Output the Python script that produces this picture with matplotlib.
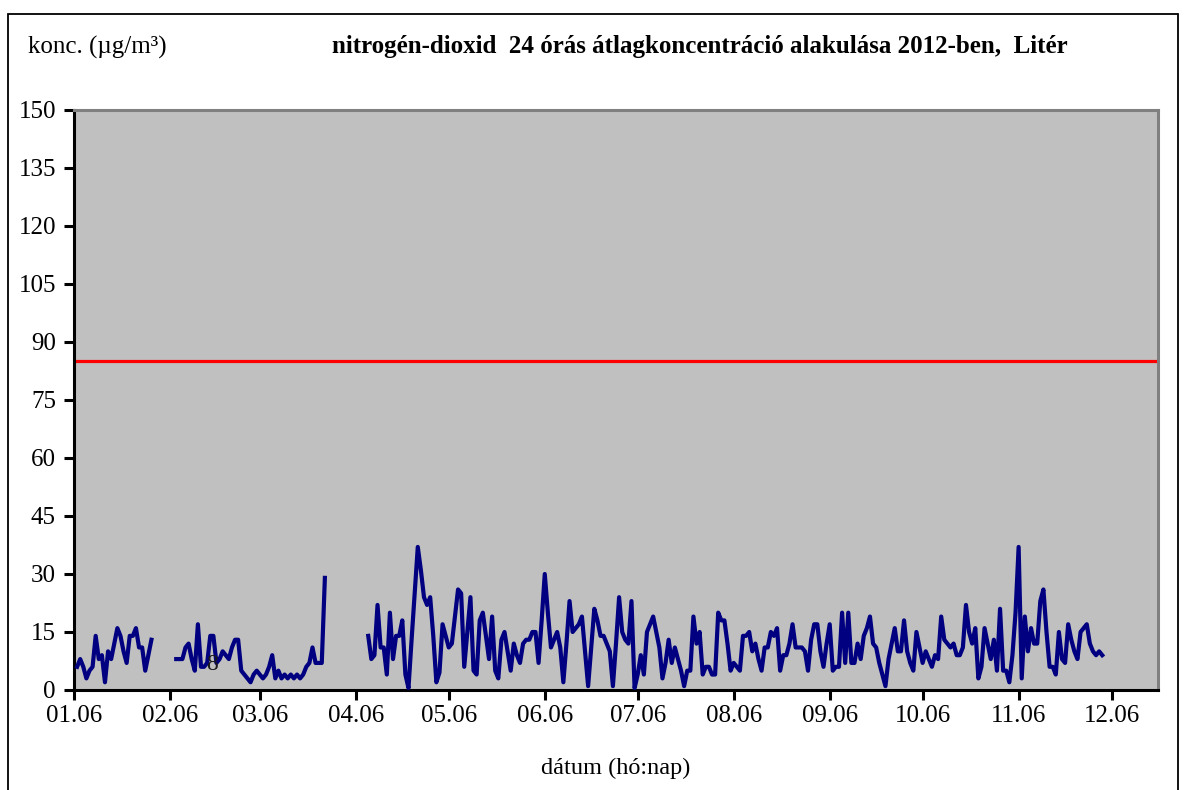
import numpy as np
import pandas as pd
import matplotlib
matplotlib.use('Agg')
import matplotlib.pyplot as plt
import matplotlib.dates as mdates
from matplotlib.patches import Rectangle

plt.rcParams['font.family'] = ['Liberation Serif', 'DejaVu Serif']

# daily NO2 24h means (ug/m3), three measured periods
seg1_start = '2012-01-07'
seg1 = [6, 8, 6, 3, 5, 6, 14, 8, 9, 2, 10, 8, 12, 16, 14, 10, 7, 14, 14, 16,
        11, 11, 5, 9, 13]

seg2_start = '2012-02-08'
seg2 = [8, 8, 8, 11, 12, 8, 5, 17, 6, 6, 7, 14, 14, 7, 8, 10, 9, 8, 11, 13,
        13, 5, 4, 3, 2, 4, 5, 4, 3, 4, 6, 9, 3, 5, 3, 4, 3, 4, 3, 4,
        3, 4, 6, 7, 11, 7, 7, 7, 29]

seg3_start = '2012-04-10'
seg3 = [14, 8, 9, 22, 11, 11, 4, 20, 8, 14, 14, 18, 4, 0.5, 13, 25, 37, 31, 24, 22,
        24, 14, 2, 4.5, 17, 14, 11, 12, 19, 26, 25, 6, 15, 24, 5, 4, 18, 20, 14, 8,
        19, 5, 3, 13, 15, 10, 5, 12, 9, 7, 12, 13, 13, 15, 15, 7, 18, 30, 20, 11,
        13, 15, 11, 2, 12, 23, 15, 16, 17, 19, 10, 1, 11, 21, 18, 14, 14, 12, 10, 1,
        12, 24, 15, 13, 12, 23, 0.5, 4, 9, 4, 15, 17, 19, 15, 11, 3, 7, 13, 7, 11,
        8, 5, 1, 5, 5, 19, 12, 15, 4, 6, 6, 4, 4, 20, 18, 18, 12, 5, 7, 6,
        5, 14, 14, 15, 10, 12, 8, 5, 11, 11, 15, 14, 16, 5, 9, 9, 12, 17, 11, 11,
        11, 10, 5, 13, 17, 17, 10, 6, 12, 17, 5, 6, 6, 20, 7, 20, 7, 7, 12, 8,
        14, 16, 19, 12, 11, 7, 4, 1, 8, 12, 16, 10, 10, 18, 10, 7, 5, 15, 11, 7,
        10, 8, 6, 9, 8, 19, 13, 12, 11, 12, 9, 9, 11, 22, 15, 12, 16, 3, 6, 16,
        12, 8, 13, 5, 21, 5, 5, 2, 9, 20, 37, 3, 19, 10, 16, 12, 12, 23, 26, 15,
        6, 6, 4, 15, 8, 7, 17, 13, 10, 8, 15, 16, 17, 12, 10, 9, 10, 9]

limit_value = 85
label_date = '2012-02-19 12:00'
label_value = 6.7
label_text = '8'

x_start, x_end = '2012-01-06', '2012-12-21'
month_ticks = [pd.Timestamp(2012, m, 6) for m in range(1, 13)]

fig = plt.figure(figsize=(11.84, 7.9), dpi=100)
ax = fig.add_axes([74 / 1184, 1 - 690 / 790, (1158 - 74) / 1184, (690 - 110) / 790])
ax.set_facecolor('#C0C0C0')

for start, vals in [(seg1_start, seg1), (seg2_start, seg2), (seg3_start, seg3)]:
    dates = pd.date_range(start, periods=len(vals), freq='D')
    ax.plot(dates, vals, color='#000080', lw=3.0, solid_joinstyle='round', zorder=3)

ax.axhline(limit_value, color='#FF0000', lw=2.3, zorder=2)
ax.text(pd.Timestamp(label_date), label_value, label_text, fontsize=17, ha='center', va='center',
        color='#1a1a1a', zorder=4)

ax.set_xlim(pd.Timestamp(x_start), pd.Timestamp(x_end))
ax.set_ylim(0, 150)
ax.set_yticks(np.arange(0, 151, 15))
ax.set_xticks(month_ticks)
ax.xaxis.set_major_formatter(mdates.DateFormatter('%m.%d'))
ax.tick_params(axis='both', labelsize=18, width=2.2, length=7, direction='out', color='black')
ax.tick_params(axis='y', pad=6)
ax.tick_params(axis='x', pad=4)

for side in ['left', 'bottom']:
    ax.spines[side].set_linewidth(2.2)
    ax.spines[side].set_color('black')
for side in ['top', 'right']:
    ax.spines[side].set_linewidth(2.2)
    ax.spines[side].set_color('#808080')

ax.set_xlabel('dátum (hó:nap)', fontsize=17.5, labelpad=22)

fig.text(28 / 1184, 1 - 47 / 790, 'konc. (µg/m³)', fontsize=18, va='center', ha='left')
fig.text(700 / 1184, 1 - 47 / 790,
         'nitrogén-dioxid  24 órás átlagkoncentráció alakulása 2012-ben,  Litér',
         fontsize=18, fontweight='bold', va='center', ha='center')

fig.patches.append(Rectangle((8 / 1184, -0.02), (1178 - 8) / 1184, 1.02 - 14 / 790,
                             transform=fig.transFigure, fill=False, edgecolor='black', lw=1.3))

plt.savefig('out.png', dpi=100)
